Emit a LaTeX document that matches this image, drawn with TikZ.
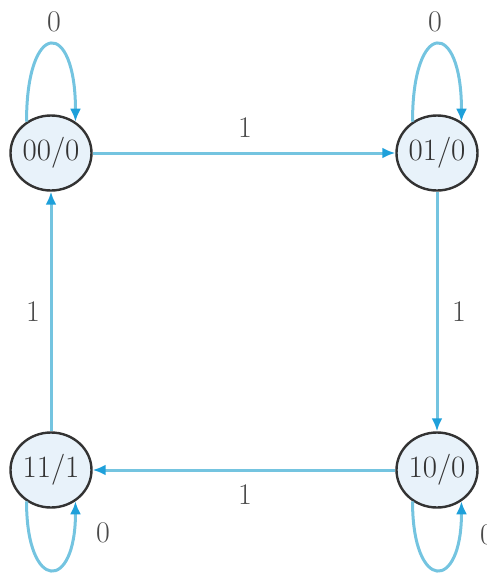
\documentclass[tikz,border=0pt]{standalone}
\usepackage{fontspec}
\usetikzlibrary{arrows.meta,shapes.geometric}
\definecolor{edgeblue}{HTML}{74C4E0}
\definecolor{tipblue}{HTML}{1EA0DA}
\definecolor{nodefill}{HTML}{E8F2FA}
\definecolor{nodeline}{HTML}{333333}
\definecolor{labgray}{HTML}{4A4A4A}
\tikzset{
  state/.style={ellipse, draw=nodeline, line width=2.4pt, fill=nodefill,
    minimum width=81pt, minimum height=75pt, inner sep=0pt,
    font=\fontsize{31}{36}\selectfont, text=black!80},
  conn/.style={draw=edgeblue, line width=3pt,
    -{Latex[length=13pt,width=11pt,color=tipblue]}},
  lab/.style={font=\fontsize{30}{34}\selectfont, text=labgray, inner sep=0pt}
}
\begin{document}
\begin{tikzpicture}[x=1pt,y=-1pt]
\useasboundingbox (0,0) rectangle (487,576);
\node[state] (A) at (51,153) {00/0};
\node[state] (B) at (437,153) {01/0};
\node[state] (C) at (437,470) {10/0};
\node[state] (D) at (51,470) {11/1};
% main edges
\draw[conn] (A) -- (B);
\draw[conn] (B) -- (C);
\draw[conn] (C) -- (D);
\draw[conn] (D) -- (A);
% edge labels
\node[lab] (l1) at (245,128) {1};
\node[lab] (l2) at (459,312) {1};
\node[lab] (l3) at (245,495) {1};
\node[lab] (l4) at (33,312) {1};
% self loops
\draw[conn] (A.128) .. controls +(0,-103) and +(0,-103) .. (A.52);
\draw[conn] (B.128) .. controls +(0,-103) and +(0,-103) .. (B.52);
\draw[conn] (D.232) .. controls +(0,91) and +(0,91) .. (D.308);
\draw[conn] (C.232) .. controls +(0,91) and +(0,91) .. (C.308);
% loop labels
\node[lab] (s1) at (54,22) {0};
\node[lab] (s2) at (435,22) {0};
\node[lab] (s3) at (103,533) {0};
\node[lab] (s4) at (487,535) {0};
\end{tikzpicture}
\end{document}
